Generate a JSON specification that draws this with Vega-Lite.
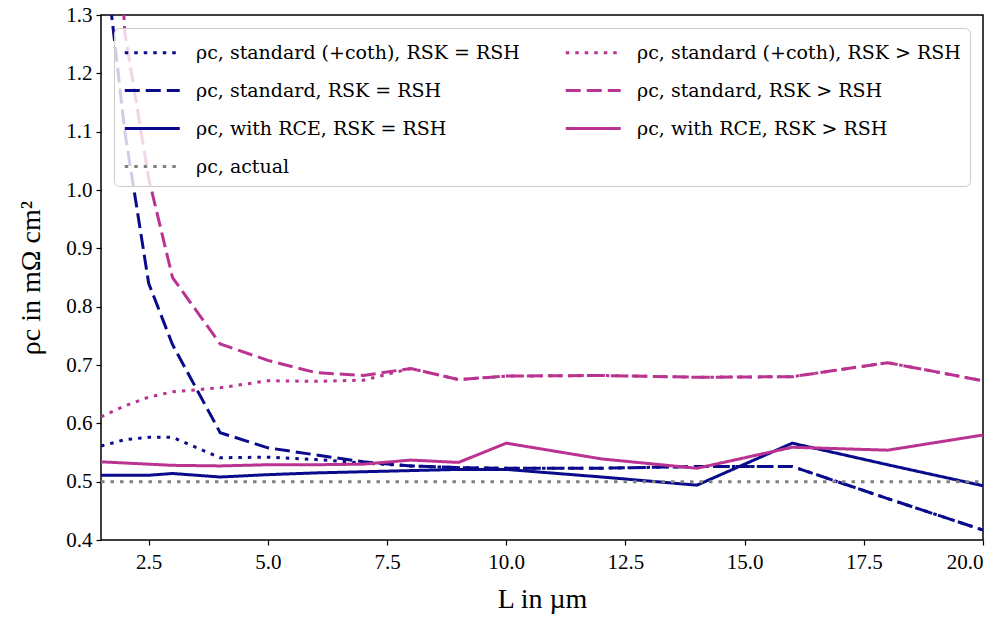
{
  "$schema": "https://vega.github.io/schema/vega-lite/v6.json",
  "width": 882,
  "height": 525,
  "autosize": "none",
  "padding": {"left": 101, "top": 15, "right": 23, "bottom": 79},
  "background": "white",
  "config": {
    "font": "Liberation Serif",
    "view": {"stroke": "black", "strokeWidth": 1.5},
    "axis": {
      "grid": false,
      "domain": false,
      "tickColor": "black",
      "tickWidth": 1.2,
      "tickSize": 5,
      "labelFont": "Liberation Serif",
      "labelFontSize": 21,
      "labelColor": "black",
      "titleFont": "Liberation Serif",
      "titleFontSize": 28,
      "titleFontWeight": "normal",
      "titleColor": "black"
    }
  },
  "data": {
    "values": [
      {"series": "ρc, standard (+coth), RSK = RSH", "L": 1.5, "rho": 0.561},
      {"series": "ρc, standard (+coth), RSK = RSH", "L": 2, "rho": 0.572},
      {"series": "ρc, standard (+coth), RSK = RSH", "L": 2.5, "rho": 0.576},
      {"series": "ρc, standard (+coth), RSK = RSH", "L": 3, "rho": 0.576},
      {"series": "ρc, standard (+coth), RSK = RSH", "L": 4, "rho": 0.541},
      {"series": "ρc, standard (+coth), RSK = RSH", "L": 5, "rho": 0.542},
      {"series": "ρc, standard (+coth), RSK = RSH", "L": 6, "rho": 0.538},
      {"series": "ρc, standard (+coth), RSK = RSH", "L": 7, "rho": 0.532},
      {"series": "ρc, standard (+coth), RSK = RSH", "L": 8, "rho": 0.527},
      {"series": "ρc, standard (+coth), RSK = RSH", "L": 9, "rho": 0.524},
      {"series": "ρc, standard (+coth), RSK = RSH", "L": 10, "rho": 0.523},
      {"series": "ρc, standard (+coth), RSK = RSH", "L": 12, "rho": 0.523},
      {"series": "ρc, standard (+coth), RSK = RSH", "L": 14, "rho": 0.526},
      {"series": "ρc, standard (+coth), RSK = RSH", "L": 16, "rho": 0.526},
      {"series": "ρc, standard (+coth), RSK = RSH", "L": 18, "rho": 0.471},
      {"series": "ρc, standard (+coth), RSK = RSH", "L": 20, "rho": 0.417},

      {"series": "ρc, standard (+coth), RSK > RSH", "L": 1.5, "rho": 0.611},
      {"series": "ρc, standard (+coth), RSK > RSH", "L": 2, "rho": 0.63},
      {"series": "ρc, standard (+coth), RSK > RSH", "L": 2.5, "rho": 0.645},
      {"series": "ρc, standard (+coth), RSK > RSH", "L": 3, "rho": 0.654},
      {"series": "ρc, standard (+coth), RSK > RSH", "L": 4, "rho": 0.661},
      {"series": "ρc, standard (+coth), RSK > RSH", "L": 5, "rho": 0.673},
      {"series": "ρc, standard (+coth), RSK > RSH", "L": 6, "rho": 0.672},
      {"series": "ρc, standard (+coth), RSK > RSH", "L": 7, "rho": 0.674},
      {"series": "ρc, standard (+coth), RSK > RSH", "L": 8, "rho": 0.694},
      {"series": "ρc, standard (+coth), RSK > RSH", "L": 9, "rho": 0.675},
      {"series": "ρc, standard (+coth), RSK > RSH", "L": 10, "rho": 0.681},
      {"series": "ρc, standard (+coth), RSK > RSH", "L": 12, "rho": 0.682},
      {"series": "ρc, standard (+coth), RSK > RSH", "L": 14, "rho": 0.679},
      {"series": "ρc, standard (+coth), RSK > RSH", "L": 16, "rho": 0.68},
      {"series": "ρc, standard (+coth), RSK > RSH", "L": 18, "rho": 0.704},
      {"series": "ρc, standard (+coth), RSK > RSH", "L": 20, "rho": 0.673},

      {"series": "ρc, standard, RSK = RSH", "L": 1.5, "rho": 1.46},
      {"series": "ρc, standard, RSK = RSH", "L": 2, "rho": 1.1},
      {"series": "ρc, standard, RSK = RSH", "L": 2.5, "rho": 0.84},
      {"series": "ρc, standard, RSK = RSH", "L": 3, "rho": 0.735},
      {"series": "ρc, standard, RSK = RSH", "L": 4, "rho": 0.584},
      {"series": "ρc, standard, RSK = RSH", "L": 5, "rho": 0.558},
      {"series": "ρc, standard, RSK = RSH", "L": 6, "rho": 0.546},
      {"series": "ρc, standard, RSK = RSH", "L": 7, "rho": 0.534},
      {"series": "ρc, standard, RSK = RSH", "L": 8, "rho": 0.527},
      {"series": "ρc, standard, RSK = RSH", "L": 9, "rho": 0.524},
      {"series": "ρc, standard, RSK = RSH", "L": 10, "rho": 0.523},
      {"series": "ρc, standard, RSK = RSH", "L": 12, "rho": 0.523},
      {"series": "ρc, standard, RSK = RSH", "L": 14, "rho": 0.526},
      {"series": "ρc, standard, RSK = RSH", "L": 16, "rho": 0.526},
      {"series": "ρc, standard, RSK = RSH", "L": 18, "rho": 0.471},
      {"series": "ρc, standard, RSK = RSH", "L": 20, "rho": 0.417},

      {"series": "ρc, standard, RSK > RSH", "L": 1.5, "rho": 2.0},
      {"series": "ρc, standard, RSK > RSH", "L": 2, "rho": 1.27},
      {"series": "ρc, standard, RSK > RSH", "L": 2.5, "rho": 1.02},
      {"series": "ρc, standard, RSK > RSH", "L": 3, "rho": 0.85},
      {"series": "ρc, standard, RSK > RSH", "L": 4, "rho": 0.736},
      {"series": "ρc, standard, RSK > RSH", "L": 5, "rho": 0.708},
      {"series": "ρc, standard, RSK > RSH", "L": 6, "rho": 0.687},
      {"series": "ρc, standard, RSK > RSH", "L": 7, "rho": 0.682},
      {"series": "ρc, standard, RSK > RSH", "L": 8, "rho": 0.694},
      {"series": "ρc, standard, RSK > RSH", "L": 9, "rho": 0.675},
      {"series": "ρc, standard, RSK > RSH", "L": 10, "rho": 0.681},
      {"series": "ρc, standard, RSK > RSH", "L": 12, "rho": 0.682},
      {"series": "ρc, standard, RSK > RSH", "L": 14, "rho": 0.679},
      {"series": "ρc, standard, RSK > RSH", "L": 16, "rho": 0.68},
      {"series": "ρc, standard, RSK > RSH", "L": 18, "rho": 0.704},
      {"series": "ρc, standard, RSK > RSH", "L": 20, "rho": 0.673},

      {"series": "ρc, with RCE, RSK = RSH", "L": 1.5, "rho": 0.511},
      {"series": "ρc, with RCE, RSK = RSH", "L": 2, "rho": 0.511},
      {"series": "ρc, with RCE, RSK = RSH", "L": 2.5, "rho": 0.511},
      {"series": "ρc, with RCE, RSK = RSH", "L": 3, "rho": 0.514},
      {"series": "ρc, with RCE, RSK = RSH", "L": 4, "rho": 0.508},
      {"series": "ρc, with RCE, RSK = RSH", "L": 5, "rho": 0.512},
      {"series": "ρc, with RCE, RSK = RSH", "L": 6, "rho": 0.515},
      {"series": "ρc, with RCE, RSK = RSH", "L": 7, "rho": 0.517},
      {"series": "ρc, with RCE, RSK = RSH", "L": 8, "rho": 0.519},
      {"series": "ρc, with RCE, RSK = RSH", "L": 9, "rho": 0.521},
      {"series": "ρc, with RCE, RSK = RSH", "L": 10, "rho": 0.521},
      {"series": "ρc, with RCE, RSK = RSH", "L": 12, "rho": 0.508},
      {"series": "ρc, with RCE, RSK = RSH", "L": 14, "rho": 0.494},
      {"series": "ρc, with RCE, RSK = RSH", "L": 16, "rho": 0.566},
      {"series": "ρc, with RCE, RSK = RSH", "L": 18, "rho": 0.529},
      {"series": "ρc, with RCE, RSK = RSH", "L": 20, "rho": 0.493},

      {"series": "ρc, with RCE, RSK > RSH", "L": 1.5, "rho": 0.534},
      {"series": "ρc, with RCE, RSK > RSH", "L": 2, "rho": 0.532},
      {"series": "ρc, with RCE, RSK > RSH", "L": 2.5, "rho": 0.53},
      {"series": "ρc, with RCE, RSK > RSH", "L": 3, "rho": 0.528},
      {"series": "ρc, with RCE, RSK > RSH", "L": 4, "rho": 0.527},
      {"series": "ρc, with RCE, RSK > RSH", "L": 5, "rho": 0.529},
      {"series": "ρc, with RCE, RSK > RSH", "L": 6, "rho": 0.529},
      {"series": "ρc, with RCE, RSK > RSH", "L": 7, "rho": 0.53},
      {"series": "ρc, with RCE, RSK > RSH", "L": 8, "rho": 0.537},
      {"series": "ρc, with RCE, RSK > RSH", "L": 9, "rho": 0.533},
      {"series": "ρc, with RCE, RSK > RSH", "L": 10, "rho": 0.566},
      {"series": "ρc, with RCE, RSK > RSH", "L": 12, "rho": 0.539},
      {"series": "ρc, with RCE, RSK > RSH", "L": 14, "rho": 0.523},
      {"series": "ρc, with RCE, RSK > RSH", "L": 16, "rho": 0.559},
      {"series": "ρc, with RCE, RSK > RSH", "L": 18, "rho": 0.554},
      {"series": "ρc, with RCE, RSK > RSH", "L": 20, "rho": 0.58},

      {"series": "ρc, actual", "L": 1.5, "rho": 0.5},
      {"series": "ρc, actual", "L": 20, "rho": 0.5}
    ]
  },
  "mark": {"type": "line", "clip": true, "strokeWidth": 3},
  "encoding": {
    "x": {
      "field": "L",
      "type": "quantitative",
      "scale": {"domain": [1.5, 20], "nice": false, "zero": false},
      "axis": {
        "title": "L in µm",
        "values": [2.5, 5, 7.5, 10, 12.5, 15, 17.5, 20],
        "format": ".1f",
        "labelPadding": 6,
        "titlePadding": 13
      }
    },
    "y": {
      "field": "rho",
      "type": "quantitative",
      "scale": {"domain": [0.4, 1.3], "nice": false, "zero": false},
      "axis": {
        "title": "ρc in mΩ cm²",
        "values": [0.4, 0.5, 0.6, 0.7, 0.8, 0.9, 1.0, 1.1, 1.2, 1.3],
        "format": ".1f",
        "labelPadding": 4,
        "titlePadding": 20
      }
    },
    "color": {
      "field": "series",
      "type": "nominal",
      "sort": null,
      "scale": {
        "domain": ["ρc, standard (+coth), RSK = RSH", "ρc, standard, RSK = RSH", "ρc, with RCE, RSK = RSH", "ρc, actual", "ρc, standard (+coth), RSK > RSH", "ρc, standard, RSK > RSH", "ρc, with RCE, RSK > RSH"],
        "range": ["#0a0a8c", "#0a0a8c", "#0a0a8c", "#808080", "#bb3391", "#bb3391", "#bb3391"]
      },
      "legend": {
        "title": null,
        "orient": "top-left",
        "offset": 13,
        "columns": 2,
        "columnPadding": 39,
        "rowPadding": 12,
        "padding": 9,
        "symbolType": "M-1,0H3",
        "symbolSize": 756,
        "symbolStrokeWidth": 3,
        "labelOffset": 42,
        "labelFontSize": 19,
        "labelFont": "DejaVu Serif",
        "labelColor": "black",
        "labelLimit": 0,
        "strokeColor": "#cccccc",
        "fillColor": "rgba(255,255,255,0.8)",
        "cornerRadius": 5
      }
    },
    "strokeDash": {
      "field": "series",
      "type": "nominal",
      "sort": null,
      "scale": {
        "domain": ["ρc, standard (+coth), RSK = RSH", "ρc, standard, RSK = RSH", "ρc, with RCE, RSK = RSH", "ρc, actual", "ρc, standard (+coth), RSK > RSH", "ρc, standard, RSK > RSH", "ρc, with RCE, RSK > RSH"],
        "range": [[3.5, 6], [15, 6], [1, 0], [3.5, 6], [3.5, 6], [15, 6], [1, 0]]
      },
      "legend": {
        "title": null,
        "orient": "top-left",
        "offset": 13,
        "columns": 2,
        "columnPadding": 39,
        "rowPadding": 12,
        "padding": 9,
        "symbolType": "M-1,0H3",
        "symbolSize": 756,
        "symbolStrokeWidth": 3,
        "labelOffset": 42,
        "labelFontSize": 19,
        "labelFont": "DejaVu Serif",
        "labelColor": "black",
        "labelLimit": 0,
        "strokeColor": "#cccccc",
        "fillColor": "rgba(255,255,255,0.8)",
        "cornerRadius": 5
      }
    }
  }
}
